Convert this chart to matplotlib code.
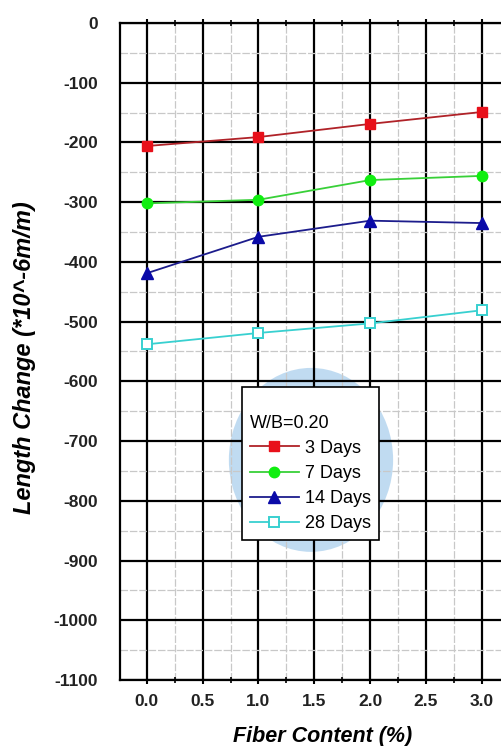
# Length change vs fiber content, W/B = 0.20

import matplotlib
matplotlib.use("Agg")
import matplotlib.pyplot as plt
from matplotlib.patches import Ellipse
from matplotlib.ticker import MultipleLocator

fiber_content = [0.0, 1.0, 2.0, 3.0]
days_3 = [-206, -191, -169, -149]
days_7 = [-302, -296, -263, -256]
days_14 = [-419, -358, -331, -335]
days_28 = [-538, -519, -503, -481]

series_labels = ["3 Days", "7 Days", "14 Days", "28 Days"]

plt.rcParams["font.family"] = ["Liberation Sans", "DejaVu Sans"]
plt.rcParams["axes.unicode_minus"] = False

fig = plt.figure(figsize=(5.02, 7.46), dpi=100)
ax = fig.add_axes([0.239, 0.0885, 0.761, 0.8807])

ax.set_xlim(-0.24, 3.18)
ax.set_ylim(-1100, 0)

# pale blue blob sitting behind the legend
blob = Ellipse((0.50, 0.335), 0.43, 0.28, transform=ax.transAxes,
               facecolor="#a6cdec", edgecolor="none", alpha=0.7, zorder=-1)
ax.add_patch(blob)

# grid: heavy black majors, light grey minors
ax.xaxis.set_major_locator(MultipleLocator(0.5))
ax.xaxis.set_minor_locator(MultipleLocator(0.25))
ax.yaxis.set_major_locator(MultipleLocator(100))
ax.yaxis.set_minor_locator(MultipleLocator(50))
ax.grid(which="major", color="black", linewidth=1.6, zorder=1)
ax.grid(which="minor", color="#c8c8c8", linewidth=0.9,
        linestyle=(0, (6, 1.5)), zorder=1)

ax.plot(fiber_content, days_3, color="#b02228", marker="s", markersize=7.5,
        markerfacecolor="#e8101a", markeredgecolor="#e8101a", linewidth=1.3,
        label=series_labels[0], zorder=3)
ax.plot(fiber_content, days_7, color="#38d038", marker="o", markersize=7.5,
        markerfacecolor="#10ee10", markeredgecolor="#10ee10", linewidth=1.3,
        label=series_labels[1], zorder=3)
ax.plot(fiber_content, days_14, color="#1c1c8c", marker="^", markersize=8,
        markerfacecolor="#0a0aa8", markeredgecolor="#0a0aa8", linewidth=1.3,
        label=series_labels[2], zorder=3)
ax.plot(fiber_content, days_28, color="#38d0d0", marker="s", markersize=7,
        markerfacecolor="white", markeredgecolor="#38d0d0",
        markeredgewidth=1.4, linewidth=1.3, label=series_labels[3], zorder=3)

for side in ["left", "bottom", "top"]:
    ax.spines[side].set_linewidth(1.6)
ax.spines["right"].set_visible(False)

ax.tick_params(axis="x", which="major", direction="out", length=3, width=1.5,
               top=True, labelsize=12.5, labelcolor="#222222", pad=7)
ax.tick_params(axis="x", which="minor", direction="inout", length=4, width=1.2,
               top=True)
ax.tick_params(axis="y", which="both", length=0, labelsize=12.5,
               labelcolor="#222222", pad=16)
for lbl in ax.get_xticklabels() + ax.get_yticklabels():
    lbl.set_fontweight("bold")

ax.set_xlabel("Fiber Content (%)", fontsize=15.5, fontweight="bold",
              style="italic")
ax.xaxis.set_label_coords(0.529, -0.070)
ax.set_ylabel("Length Change (*10^-6m/m)", fontsize=17, fontweight="bold",
              style="italic")
ax.yaxis.set_label_coords(-0.251, 0.49)
ax.yaxis.label.set_va("center")

leg = ax.legend(title="\nW/B=0.20", loc="upper left",
                bbox_to_anchor=(0.319, 0.446), fontsize=13,
                title_fontsize=13, frameon=True, fancybox=False,
                edgecolor="black", framealpha=1.0, handlelength=2.7,
                handletextpad=0.35, labelspacing=0.45, borderpad=0.45,
                borderaxespad=0)
leg.get_frame().set_linewidth(1.2)
leg._legend_box.align = "left"

fig.savefig("out.png", dpi=100)
